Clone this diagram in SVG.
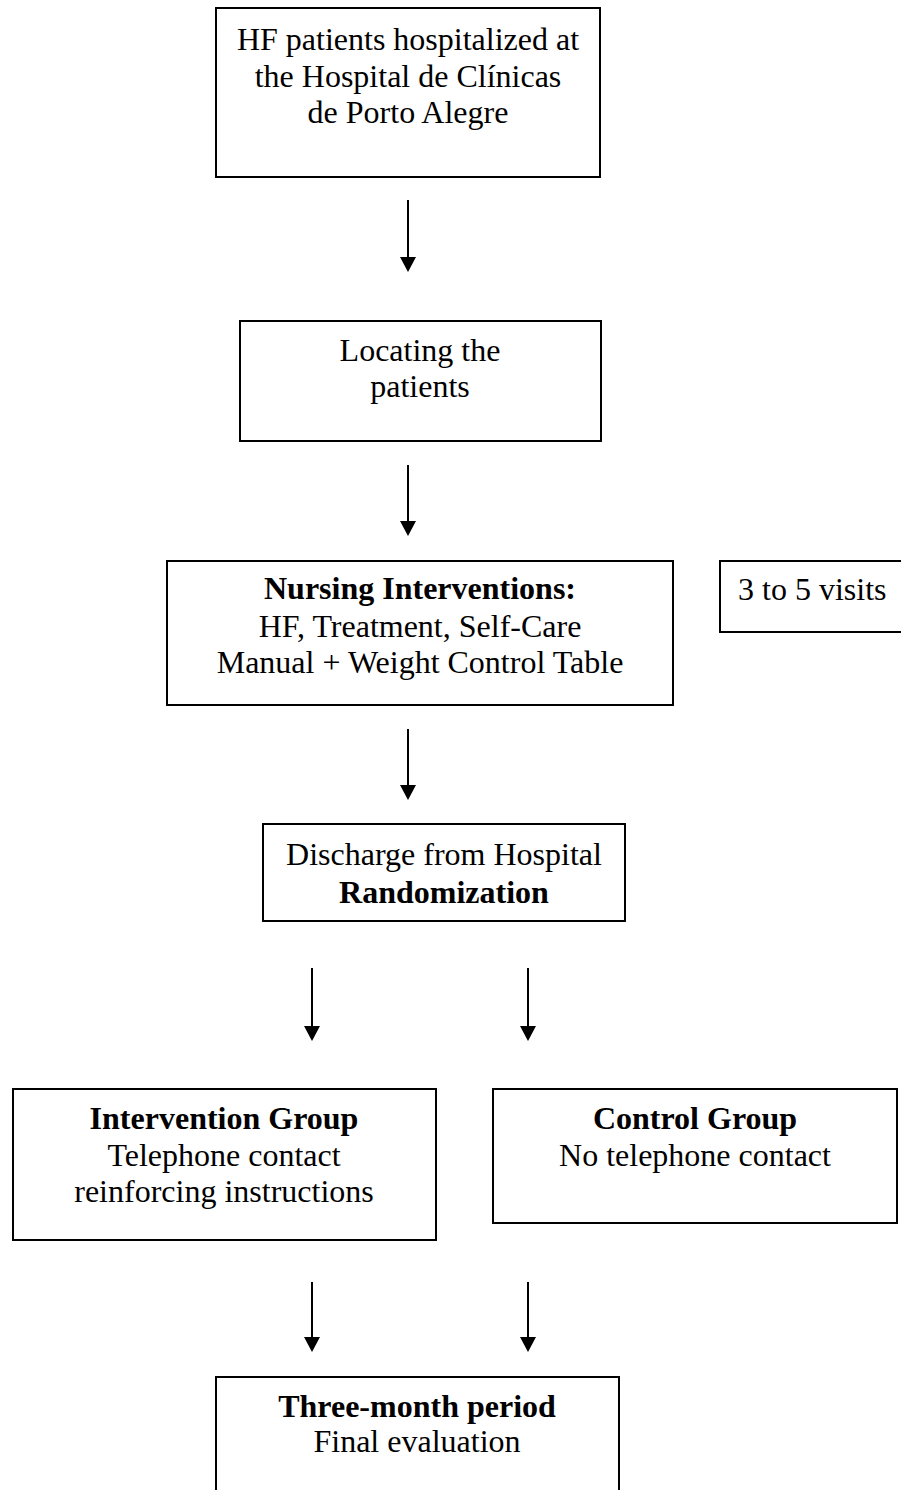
<svg xmlns="http://www.w3.org/2000/svg" width="901" height="1490" viewBox="0 0 901 1490">
<style>
.box{fill:#fff;stroke:#000;stroke-width:2}
.t{font-family:"Liberation Serif","Times New Roman",serif;font-size:32px;fill:#000;text-anchor:middle}
.b{font-weight:bold}
.c{stroke:#000;stroke-width:2;fill:none}
</style>
<defs>
<marker id="ah" markerUnits="userSpaceOnUse" viewBox="0 0 15 16" refX="0" refY="8" markerWidth="15" markerHeight="16" orient="auto">
<path d="M0,0 L15,8 L0,16 z" fill="#000"/>
</marker>
</defs>
<rect width="901" height="1490" fill="#fff"/>
<g id="connectors">
<line class="c" x1="408" y1="200" x2="408" y2="257" marker-end="url(#ah)"/>
<line class="c" x1="408" y1="465" x2="408" y2="521" marker-end="url(#ah)"/>
<line class="c" x1="408" y1="729" x2="408" y2="785" marker-end="url(#ah)"/>
<line class="c" x1="312" y1="968" x2="312" y2="1026" marker-end="url(#ah)"/>
<line class="c" x1="528" y1="968" x2="528" y2="1026" marker-end="url(#ah)"/>
<line class="c" x1="312" y1="1282" x2="312" y2="1337" marker-end="url(#ah)"/>
<line class="c" x1="528" y1="1282" x2="528" y2="1337" marker-end="url(#ah)"/>
</g>
<g id="n1">
<rect class="box" x="216" y="8" width="384" height="169"/>
<text class="t" x="408" y="50">HF patients hospitalized at</text>
<text class="t" x="408" y="87">the Hospital de Clínicas</text>
<text class="t" x="408" y="123">de Porto Alegre</text>
</g>
<g id="n2">
<rect class="box" x="240" y="321" width="361" height="120"/>
<text class="t" x="420" y="361">Locating the</text>
<text class="t" x="420" y="397">patients</text>
</g>
<g id="n3">
<rect class="box" x="167" y="561" width="506" height="144"/>
<text class="t b" x="420" y="599">Nursing Interventions:</text>
<text class="t" x="420" y="637">HF, Treatment, Self-Care</text>
<text class="t" x="420" y="673">Manual + Weight Control Table</text>
</g>
<g id="n-visits">
<rect class="box" x="720" y="561" width="200" height="71"/>
<text class="t" x="738" y="600" style="text-anchor:start">3 to 5 visits</text>
</g>
<g id="n4">
<rect class="box" x="263" y="824" width="362" height="97"/>
<text class="t" x="444" y="865">Discharge from Hospital</text>
<text class="t b" x="444" y="903">Randomization</text>
</g>
<g id="n5">
<rect class="box" x="13" y="1089" width="423" height="151"/>
<text class="t b" x="224" y="1129">Intervention Group</text>
<text class="t" x="224" y="1166">Telephone contact</text>
<text class="t" x="224" y="1202">reinforcing instructions</text>
</g>
<g id="n6">
<rect class="box" x="493" y="1089" width="404" height="134"/>
<text class="t b" x="695" y="1129">Control Group</text>
<text class="t" x="695" y="1166">No telephone contact</text>
</g>
<g id="n7">
<rect class="box" x="216" y="1377" width="403" height="140"/>
<text class="t b" x="417" y="1417">Three-month period</text>
<text class="t" x="417" y="1452">Final evaluation</text>
</g>
</svg>
